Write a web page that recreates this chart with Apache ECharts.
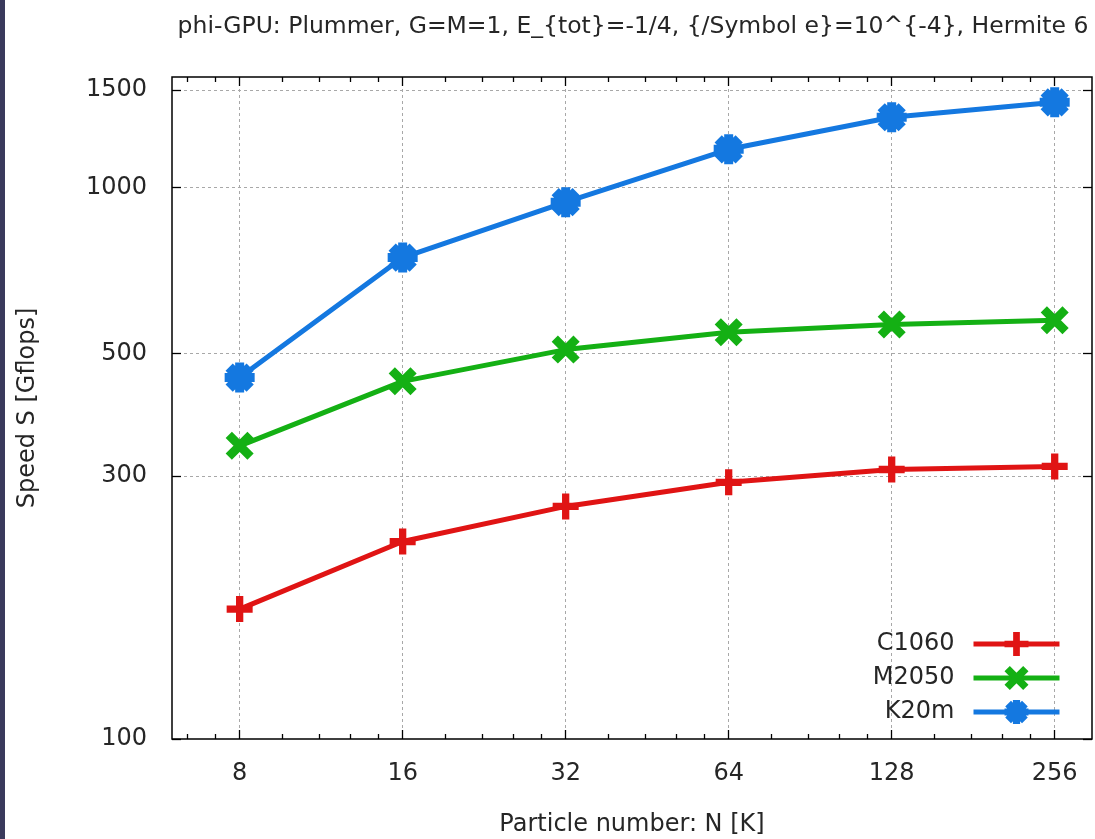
<!DOCTYPE html>
<html>
<head>
<meta charset="utf-8">
<style>
html,body{margin:0;padding:0;background:#fff;}
#chart{width:1095px;height:839px;}
</style>
<script src="https://cdn.jsdelivr.net/npm/echarts@6/dist/echarts.min.js"></script>
</head>
<body>
<div id="chart"></div>
<script>
// ---- data ----
var particleN = [8, 16, 32, 64, 128, 256];
var c1060 = [172, 228, 264, 292, 308, 312];
var m2050 = [340, 445, 508, 546, 564, 574];
var k20m = [452, 746, 940, 1172, 1340, 1426];
var xTickLabels = [8, 16, 32, 64, 128, 256];
var xMinorTicks = [6.4, 7.2, 9.6, 11.2, 12.8, 14.4, 19.2, 22.4, 25.6, 28.8, 38.4, 44.8, 51.2, 57.6,
  76.8, 89.6, 102.4, 115.2, 153.6, 179.2, 204.8, 230.4];
var yTickLabels = [100, 300, 500, 1000, 1500];
var yGridLines = [300, 500, 1000, 1500];

function pairs(ys) { return particleN.map(function (x, i) { return [x, ys[i]]; }); }

var plusPath = 'path://M-2.8,-10L2.8,-10L2.8,-2.8L10,-2.8L10,2.8L2.8,2.8L2.8,10L-2.8,10L-2.8,2.8L-10,2.8L-10,-2.8L-2.8,-2.8Z';
var xPath = 'path://M-5.0,-9.0L9.0,5.0L5.0,9.0L-9.0,-5.0Z M-9.0,5.0L5.0,-9.0L9.0,-5.0L-5.0,9.0Z';
var starPath = 'path://M-3,-10L3,-10L3,-3L10,-3L10,3L3,3L3,10L-3,10L-3,3L-10,3L-10,-3L-3,-3Z ' +
  'M-4.6,-9.4L9.4,4.6L4.6,9.4L-9.4,-4.6Z M-9.4,4.6L4.6,-9.4L9.4,-4.6L-4.6,9.4Z';

var FONT = '"DejaVu Sans", sans-serif';
var FS = 24;
var TXT = '#262626';

var chart = echarts.init(document.getElementById('chart'));

function xAxisBase(pos, ticks, len) {
  return {
    type: 'log', logBase: 2, min: 6, max: 300, position: pos,
    axisLine: { show: false },
    axisTick: { show: true, inside: true, length: len, customValues: ticks, lineStyle: { color: '#000', width: 1.3 } },
    axisLabel: { show: false },
    splitLine: { show: false },
    minorTick: { show: false }
  };
}
var xMain = xAxisBase('bottom', xTickLabels, 9);
xMain.axisLabel = { show: true, customValues: xTickLabels, margin: 23, fontSize: FS, color: TXT, fontFamily: FONT,
  formatter: function (v) { return String(v); } };
xMain.splitLine = { show: true, lineStyle: { color: '#a8a8a8', width: 1, type: [3, 3] } };
xMain.name = 'Particle number: N [K]';
xMain.nameLocation = 'middle';
xMain.nameGap = 74;
xMain.nameTextStyle = { fontSize: FS, color: TXT, fontFamily: FONT };

function yAxisBase(pos) {
  return {
    type: 'log', logBase: 10, min: 100, max: 1585, position: pos,
    axisLine: { show: false },
    axisTick: { show: true, inside: true, length: 9, customValues: yTickLabels, lineStyle: { color: '#000', width: 1.3 } },
    axisLabel: { show: false },
    splitLine: { show: false },
    minorTick: { show: false }
  };
}
var yMain = yAxisBase('left');
yMain.axisLabel = { show: true, customValues: yTickLabels, margin: 25, fontSize: FS, color: TXT, fontFamily: FONT,
  formatter: function (v) { return String(Math.round(v)); } };
yMain.name = 'Speed S [Gflops]';
yMain.nameLocation = 'middle';
yMain.nameGap = 132;
yMain.nameRotate = 90;
yMain.nameTextStyle = { fontSize: FS, color: TXT, fontFamily: FONT };

var gridLineStyle = { color: '#a8a8a8', width: 1, type: [3, 3] };

var option = {
  backgroundColor: '#ffffff',
  animation: false,
  title: {
    text: 'phi-GPU: Plummer, G=M=1, E_{tot}=-1/4, {/Symbol e}=10^{-4}, Hermite 6',
    left: 628, top: 10, textAlign: 'center',
    textStyle: { fontSize: 23.5, fontWeight: 'normal', color: TXT, fontFamily: FONT }
  },
  graphic: [{ type: 'rect', shape: { x: 0, y: 0, width: 5, height: 839 }, style: { fill: '#3a3a5c' }, z: 100 }],
  grid: { left: 172, right: 3, top: 77, bottom: 100, show: true, borderColor: '#000', borderWidth: 1.5,
    backgroundColor: 'transparent', containLabel: false, outerBoundsMode: 'none' },
  legend: {
    orient: 'vertical', right: 28, top: 627, align: 'right',
    itemWidth: 86, itemHeight: 30, itemGap: 10,
    lineStyle: { width: 5 },
    textStyle: { fontSize: FS, color: TXT, fontFamily: FONT, padding: [0, 14, 0, 0] },
    data: ['C1060', 'M2050', 'K20m']
  },
  xAxis: [xMain, xAxisBase('bottom', xMinorTicks, 5), xAxisBase('top', xTickLabels, 9), xAxisBase('top', xMinorTicks, 5)],
  yAxis: [yMain, yAxisBase('right')],
  series: [
    {
      name: 'C1060', type: 'line', data: pairs(c1060), xAxisIndex: 0, yAxisIndex: 0,
      symbol: plusPath, symbolSize: 26,
      lineStyle: { width: 5, color: '#e01414' }, itemStyle: { color: '#e01414' },
      markLine: {
        silent: true, symbol: 'none', label: { show: false },
        lineStyle: gridLineStyle, z: 0,
        data: yGridLines.map(function (v) { return { yAxis: v }; })
      }
    },
    {
      name: 'M2050', type: 'line', data: pairs(m2050), xAxisIndex: 0, yAxisIndex: 0,
      symbol: xPath, symbolSize: 28,
      lineStyle: { width: 5, color: '#14b014' }, itemStyle: { color: '#14b014' }
    },
    {
      name: 'K20m', type: 'line', data: pairs(k20m), xAxisIndex: 0, yAxisIndex: 0,
      symbol: starPath, symbolSize: 30,
      lineStyle: { width: 5, color: '#1478e0' }, itemStyle: { color: '#1478e0' }
    }
  ]
};
chart.setOption(option);
</script>
</body>
</html>
